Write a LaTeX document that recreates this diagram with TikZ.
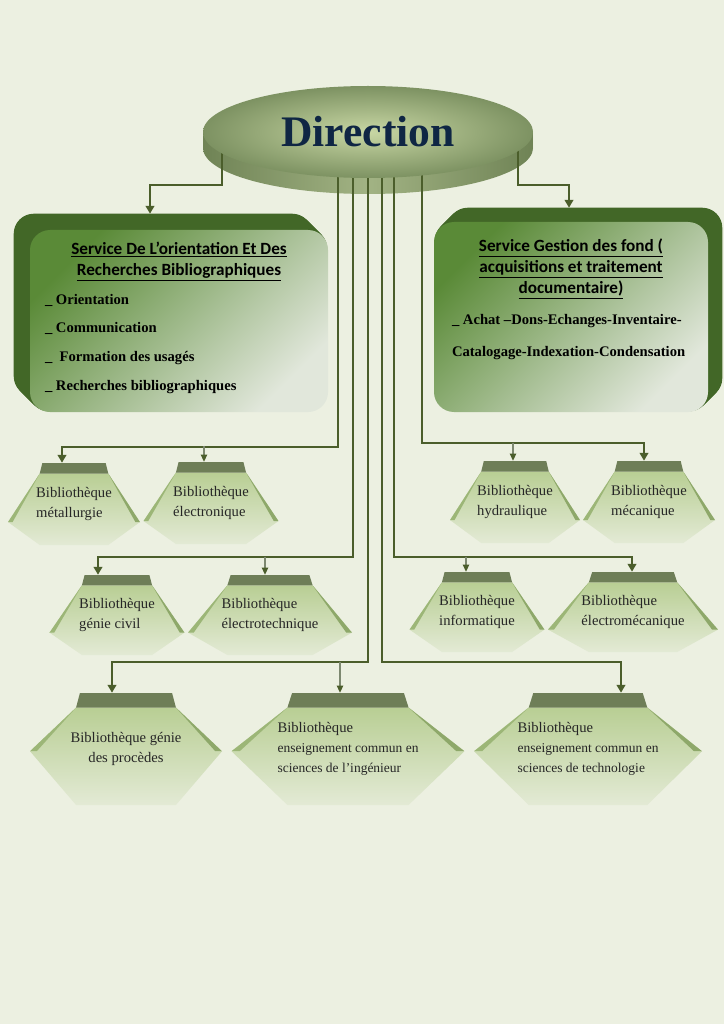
\documentclass[tikz,border=0pt]{standalone}
\usepackage{fontspec}
\setmainfont{Liberation Serif}
\newfontfamily\headfont{Carlito}
\usetikzlibrary{positioning,backgrounds,shapes.geometric,arrows.meta,calc}

\newlength\px
\setlength\px{0.025cm}

\definecolor{pagebg}{HTML}{ECF0E1}
\definecolor{linkc}{HTML}{4B5E2B}
\definecolor{thinc}{HTML}{7D8870}
\definecolor{dirtxt}{HTML}{0F2644}
\definecolor{dirin}{HTML}{C8D7A4}
\definecolor{dirout}{HTML}{7D9262}
\definecolor{dirrim}{HTML}{6F8355}
\definecolor{dirrimmid}{HTML}{A2B384}
\definecolor{svdark}{HTML}{426727}
\definecolor{svtop}{HTML}{5A8A37}
\definecolor{svbot}{HTML}{E1E7DB}
\definecolor{libtop}{HTML}{B2CA8A}
\definecolor{libbot}{HTML}{E3EAD5}
\definecolor{libband}{HTML}{6E7E57}
\definecolor{libedge}{HTML}{8EA86A}

% hexagon of a library, drawn inside the node box
\newcommand\libtip{0.72}
\newcommand\lblet{let \p1=(path picture bounding box.north west), \p2=(path picture bounding box.south east) in}
\newcommand\lbp[2]{({\x1+#1*(\x2-\x1)},{\y1+#2*(\y2-\y1)})}
\newcommand\libshape{%
  \shade[top color=libtop, bottom color=libbot] \lblet \lbp{.24}{.13} -- \lbp{.76}{.13} -- \lbp{1}{\libtip}
    -- \lbp{.76}{1} -- \lbp{.24}{1} -- \lbp{0}{\libtip} -- cycle;
  \fill[libband] \lblet \lbp{.26}{0} -- \lbp{.74}{0} -- \lbp{.76}{.13} -- \lbp{.24}{.13} -- cycle;
  \fill[libedge] \lblet \lbp{.76}{.13} -- \lbp{1}{\libtip} -- \lbp{.965}{\libtip} -- cycle;
  \fill[libedge!60!libtop] \lblet \lbp{.24}{.13} -- \lbp{0}{\libtip} -- \lbp{.035}{\libtip} -- cycle;}

\begin{document}
\begin{tikzpicture}[x=0.025cm, y=-0.025cm,
  link/.style={draw=linkc, line width=2pt, -{Triangle[length=5.5pt,width=6pt]}},
  thinlink/.style={draw=thinc, line width=0.9pt, -{Triangle[length=5pt,width=4.5pt,color=linkc]}},
  dirshape/.style={ellipse, minimum width=330\px, minimum height=92\px, inner color=dirin,
    outer color=dirout, text=dirtxt, font=\bfseries\fontsize{31}{36}\selectfont},
  service/.style={rectangle, rounded corners=20\px, top color=svtop, bottom color=svbot,
    shading angle=45, inner sep=0pt},
  servhead/.style={align=center, inner sep=0pt, font=\headfont\bfseries\fontsize{12.2}{15}\selectfont},
  servlist/.style={align=left, inner sep=0pt, font=\bfseries\fontsize{10.4}{20.5}\selectfont},
  libbox/.style 2 args={rectangle, minimum width=#1\px, minimum height=#2\px, inner sep=0pt,
    align=left, text=black!85, font=\fontsize{10.4}{14}\selectfont, path picture={\libshape}},
  lib tip/.code={\def\libtip{#1}}]

  \useasboundingbox (0,0) rectangle (724,1024);

  % head of the chart
  \node[dirshape] (dir) at (368,132) {Direction};

  % the two services
  \node[service, minimum width=298\px, minimum height=182\px] (orient) at (179,321) {};
  \node[servhead, below=12\px of orient.north] (orienthead)
    {\underline{Service De L’orientation Et Des}\\\underline{Recherches Bibliographiques}};
  \node[servlist, below right=64\px and 15\px of orient.north west] (orientlist)
    {\_ Orientation\\\_ Communication\\\_\ \ Formation des usagés\\\_ Recherches bibliographiques};

  \node[service, minimum width=274\px, minimum height=190\px] (gest) at (571,317) {};
  \node[servhead, below=17\px of gest.north] (gesthead)
    {\underline{Service Gestion des fond (}\\\underline{acquisitions et traitement}\\\underline{documentaire)}};
  \node[servlist, font=\bfseries\fontsize{10.4}{22.7}\selectfont, below right=92\px and 18\px of gest.north west] (gestlist)
    {\_ Achat –Dons-Echanges-Inventaire-\\Catalogage-Indexation-Condensation};

  % libraries, first row
  \node[libbox={132}{82}] (met) at (74,504) {Bibliothèque\\métallurgie};
  \node[libbox={135}{82}] (elec) at (211,503) {Bibliothèque\\électronique};
  \node[libbox={130}{82}] (hyd) at (515,502) {Bibliothèque\\hydraulique};
  \node[libbox={132}{82}] (mec) at (649,502) {Bibliothèque\\mécanique};
  % second row
  \node[libbox={135}{80}] (gc) at (117,615) {Bibliothèque\\génie civil};
  \node[libbox={164}{80}] (etech) at (270,615) {Bibliothèque\\électrotechnique};
  \node[libbox={135}{80}] (info) at (477,612) {Bibliothèque\\informatique};
  \node[libbox={170}{80}] (emec) at (633,612) {Bibliothèque\\électromécanique};
  % third row
  \node[libbox={192}{112}, lib tip=0.52, align=center] (gp) at (126,749) {Bibliothèque génie\\des procèdes};
  \node[libbox={233}{112}, lib tip=0.52] (ing) at (348,749)
    {Bibliothèque\\{\fontsize{9.6}{14}\selectfont enseignement commun en}\\{\fontsize{9.6}{14}\selectfont sciences de l’ingénieur}};
  \node[libbox={228}{112}, lib tip=0.52] (tech) at (588,749)
    {Bibliothèque\\{\fontsize{9.6}{14}\selectfont enseignement commun en}\\{\fontsize{9.6}{14}\selectfont sciences de technologie}};

  \begin{pgfonlayer}{background}
    \fill[pagebg] (0,0) rectangle (724,1024);
    \foreach \s in {2,4,...,16}
      \shade[left color=dirrim, right color=dirrim, middle color=dirrimmid]
        ([yshift=-\s\px]dir.center) ellipse [x radius=165\px, y radius=46\px];
    \foreach \s in {1,...,16}
      \fill[svdark, rounded corners=20\px] ([shift={(-\s,-\s)}]orient.north west) rectangle ([shift={(-\s,-\s)}]orient.south east);
    \foreach \s in {1,...,14}
      \fill[svdark, rounded corners=20\px] ([shift={(\s,-\s)}]gest.north west) rectangle ([shift={(\s,-\s)}]gest.south east);

    \draw[link] ([xshift=-146\px]dir.center) -- ++(0,53) -| ([shift={(-29,-16)}]orient.north);
    \draw[link] ([xshift=150\px]dir.center) -- ++(0,53) -| ([shift={(-2,-14)}]gest.north);

    \draw[link] ([xshift=-30\px]dir.center) -- ++(0,315) -| ([xshift=-12\px]met.north);
    \draw[thinlink] ([shift={(-7,-16)}]elec.north) -- ([xshift=-7\px]elec.north);
    \draw[link] ([xshift=-15\px]dir.center) -- ++(0,425) -| ([xshift=-19\px]gc.north);
    \draw[thinlink] ([shift={(-5,-18)}]etech.north) -- ([xshift=-5\px]etech.north);
    \draw[link] (dir.center) -- ++(0,530) -| ([xshift=-14\px]gp.north);
    \draw[thinlink] ([shift={(-8,-31)}]ing.north) -- ([xshift=-8\px]ing.north);
    \draw[link] ([xshift=14\px]dir.center) -- ++(0,530) -| ([xshift=33\px]tech.north);
    \draw[link] ([xshift=26\px]dir.center) -- ++(0,425) -| ([xshift=-1\px]emec.north);
    \draw[thinlink] ([shift={(-11,-15)}]info.north) -- ([xshift=-11\px]info.north);
    \draw[link] ([xshift=54\px]dir.center) -- ++(0,311) -| ([xshift=-5\px]mec.north);
    \draw[thinlink] ([shift={(-2,-18)}]hyd.north) -- ([xshift=-2\px]hyd.north);
  \end{pgfonlayer}
\end{tikzpicture}
\end{document}
